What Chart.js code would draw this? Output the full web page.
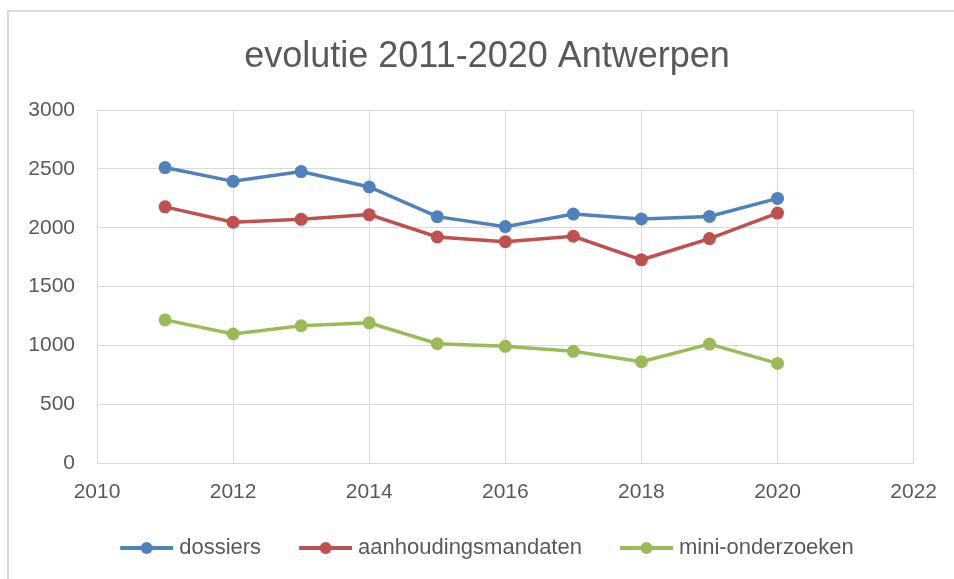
<!DOCTYPE html>
<html>
<head>
<meta charset="utf-8">
<script src="https://cdn.jsdelivr.net/npm/chart.js@4"></script>
<style>
  html, body { margin: 0; padding: 0; background: #fff; }
  canvas { display: block; }
</style>
</head>
<body>
<canvas id="myChart" width="954" height="579"></canvas>
<script>
const jaren = [2011, 2012, 2013, 2014, 2015, 2016, 2017, 2018, 2019, 2020];
const dossiers = [2512, 2395, 2478, 2347, 2095, 2010, 2117, 2075, 2097, 2250];
const mandaten = [2178, 2047, 2072, 2112, 1922, 1882, 1928, 1728, 1908, 2125];
const mini = [1217, 1097, 1167, 1192, 1014, 992, 950, 861, 1011, 847];
const namen = ["dossiers", "aanhoudingsmandaten", "mini-onderzoeken"];
const kleuren = ["#4F81BD", "#C0504D", "#9BBB59"];

const font = "'Liberation Sans', Arial, sans-serif";
const grijs = "#595959";

// legend symbol: short line with a dot in the middle
function symbool(kleur) {
  const c = document.createElement("canvas");
  c.width = 60;
  c.height = 16;
  const ctx = c.getContext("2d");
  ctx.strokeStyle = kleur;
  ctx.lineWidth = 4;
  ctx.beginPath();
  ctx.moveTo(6, 8);
  ctx.lineTo(59, 8);
  ctx.stroke();
  ctx.fillStyle = kleur;
  ctx.beginPath();
  ctx.arc(32.5, 8, 6, 0, Math.PI * 2);
  ctx.fill();
  return c;
}

function reeks(naam, waarden, kleur) {
  return {
    label: naam,
    data: jaren.map((j, i) => ({ x: j, y: waarden[i] })),
    borderColor: kleur,
    backgroundColor: kleur,
    borderWidth: 3.5,
    pointRadius: 6.5,
    pointBorderWidth: 0,
    pointStyle: "circle",
    tension: 0,
  };
}

// grey frame (top + left edge) like the Excel chart border
const kader = {
  id: "kader",
  beforeDraw(chart) {
    const ctx = chart.ctx;
    ctx.save();
    ctx.fillStyle = "#D9D9D9";
    ctx.fillRect(7, 10, 2, 569);
    ctx.fillRect(7, 10, 947, 2);
    ctx.restore();
  },
};

// title and legend centred a bit more to the right
const centreer = {
  id: "centreer",
  afterLayout(chart) {
    chart.titleBlock.left = 59;
    chart.legend.left = 59;
  },
};

new Chart(document.getElementById("myChart"), {
  type: "line",
  data: {
    datasets: [
      reeks(namen[0], dossiers, kleuren[0]),
      reeks(namen[1], mandaten, kleuren[1]),
      reeks(namen[2], mini, kleuren[2]),
    ],
  },
  options: {
    responsive: false,
    animation: false,
    layout: { padding: { left: 0, right: 39, top: 0, bottom: 10 } },
    scales: {
      x: {
        type: "linear",
        min: 2010,
        max: 2022,
        afterFit: (s) => { s.height = 36; },
        ticks: {
          stepSize: 2,
          padding: 17,
          color: grijs,
          font: { family: font, size: 21 },
          callback: (v) => String(v),
        },
        grid: { color: "#D9D9D9", drawTicks: false },
        border: { color: "#D9D9D9" },
      },
      y: {
        min: 0,
        max: 3000,
        afterFit: (s) => { s.width = 97; },
        ticks: {
          stepSize: 500,
          padding: 22,
          color: grijs,
          font: { family: font, size: 21 },
          callback: (v) => String(v),
        },
        grid: { color: "#D9D9D9", drawTicks: false },
        border: { color: "#D9D9D9" },
      },
    },
    plugins: {
      title: {
        display: true,
        text: "evolutie 2011-2020 Antwerpen",
        color: grijs,
        font: { family: font, size: 36, weight: "normal" },
        padding: { top: 35, bottom: 32 },
      },
      legend: {
        position: "bottom",
        labels: {
          usePointStyle: true,
          pointStyleWidth: 48,
          padding: 38,
          color: grijs,
          font: { family: font, size: 22 },
          generateLabels: (chart) =>
            chart.data.datasets.map((ds, i) => ({
              text: ds.label,
              pointStyle: symbool(kleuren[i]),
              fillStyle: kleuren[i],
              strokeStyle: kleuren[i],
              lineWidth: 0,
              fontColor: grijs,
              datasetIndex: i,
            })),
        },
      },
      tooltip: { enabled: false },
    },
  },
  plugins: [kader, centreer],
});
</script>
</body>
</html>
